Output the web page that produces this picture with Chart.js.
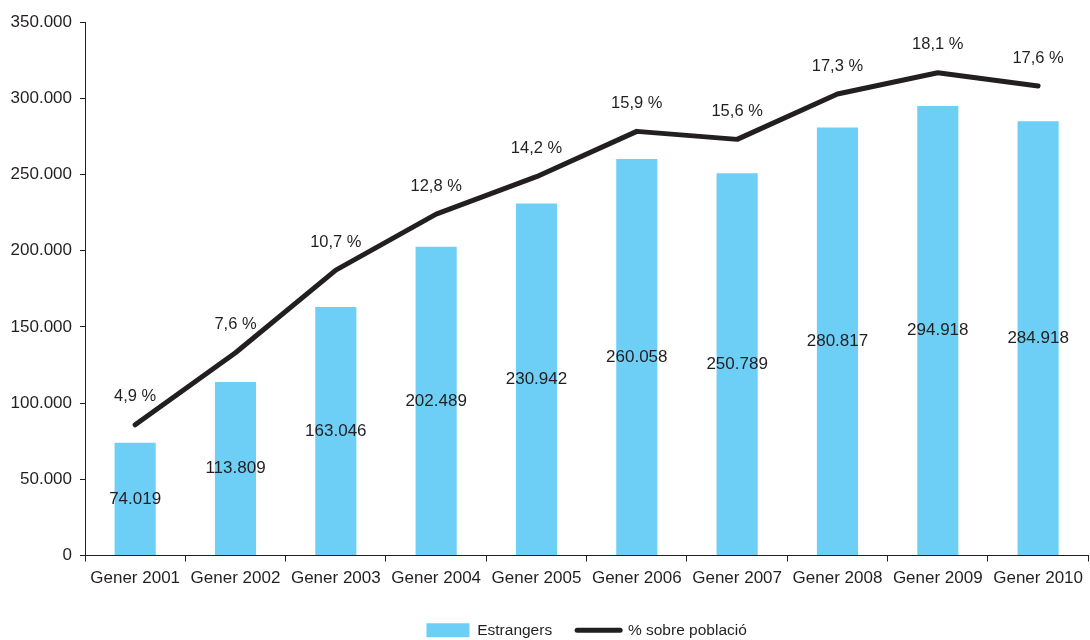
<!DOCTYPE html>
<html lang="ca">
<head>
<meta charset="UTF-8">
<title>Estrangers</title>
<script src="https://cdn.jsdelivr.net/npm/chart.js"></script>
<style>
  html, body { margin: 0; padding: 0; background: #fff; }
  #wrap { width: 1090px; height: 640px; }
</style>
</head>
<body>
<div id="wrap"><canvas id="chart" width="1090" height="640"></canvas></div>
<script>
const categories = ['Gener 2001', 'Gener 2002', 'Gener 2003', 'Gener 2004', 'Gener 2005',
                    'Gener 2006', 'Gener 2007', 'Gener 2008', 'Gener 2009', 'Gener 2010'];
const estrangers = [74019, 113809, 163046, 202489, 230942, 260058, 250789, 280817, 294918, 284918];
const percentPoblacio = [4.9, 7.6, 10.7, 12.8, 14.2, 15.9, 15.6, 17.3, 18.1, 17.6];
const yTicks = [0, 50000, 100000, 150000, 200000, 250000, 300000, 350000];

const ink = '#231f20';
const family = '"Liberation Sans", Arial, sans-serif';
const tickFont = { family: family, size: 17 };

const fmtThousands = v => String(v).replace(/\B(?=(\d{3})+(?!\d))/g, '.');
const fmtPct = v => v.toFixed(1).replace('.', ',') + ' %';

// value labels: bar values centred in bars, percentages above the line
const labelsPlugin = {
  id: 'valueLabels',
  afterLayout(chart) {
    // centre the legend under the plot area rather than the whole canvas
    const lg = chart.legend;
    const shift = (chart.chartArea.left + chart.chartArea.right) / 2 - (lg.left + lg.right) / 2;
    lg.left += shift;
    lg.right += shift;
  },
  afterDatasetsDraw(chart) {
    const ctx = chart.ctx;
    ctx.save();
    ctx.fillStyle = ink;
    ctx.textAlign = 'center';
    ctx.textBaseline = 'middle';
    ctx.font = '17px ' + family;
    chart.getDatasetMeta(0).data.forEach((bar, i) => {
      ctx.fillText(fmtThousands(estrangers[i]), bar.x, (bar.y + bar.base) / 2);
    });
    ctx.font = '16.5px ' + family;
    chart.getDatasetMeta(1).data.forEach((pt, i) => {
      ctx.fillText(fmtPct(percentPoblacio[i]), pt.x, pt.y - 28);
    });
    ctx.restore();
  }
};

new Chart(document.getElementById('chart'), {
  data: {
    labels: categories,
    datasets: [
      {
        type: 'bar',
        label: 'Estrangers',
        data: estrangers,
        backgroundColor: '#6dcff6',
        borderWidth: 0,
        barPercentage: 0.41,
        categoryPercentage: 1,
        yAxisID: 'y',
        order: 2
      },
      {
        type: 'line',
        label: '% sobre població',
        data: percentPoblacio,
        borderColor: ink,
        backgroundColor: ink,
        borderWidth: 5,
        borderCapStyle: 'round',
        borderJoinStyle: 'round',
        pointRadius: 0,
        tension: 0,
        yAxisID: 'y1',
        order: 1
      }
    ]
  },
  options: {
    responsive: false,
    animation: false,
    layout: { padding: { top: 22, right: 0, left: 0, bottom: -8 } },
    plugins: {
      tooltip: { enabled: false },
      legend: {
        position: 'bottom',
        labels: {
          font: { family: family, size: 15.5 },
          color: ink,
          usePointStyle: true,
          pointStyleWidth: 43,
          boxHeight: 14,
          padding: 25,
          generateLabels(chart) {
            return [
              { text: 'Estrangers', fillStyle: '#6dcff6', strokeStyle: '#6dcff6', lineWidth: 0,
                pointStyle: 'rect', datasetIndex: 0, fontColor: ink },
              { text: '% sobre població', fillStyle: ink, strokeStyle: ink, lineWidth: 5,
                lineCap: 'round', pointStyle: 'line', datasetIndex: 1, fontColor: ink }
            ];
          }
        }
      }
    },
    scales: {
      x: {
        offset: true,
        afterFit(scale) { scale.height = 42; },
        grid: { display: true, drawOnChartArea: false, offset: true, tickLength: 6, color: ink },
        border: { color: ink, width: 1 },
        ticks: { font: tickFont, color: ink, padding: 7, maxRotation: 0 }
      },
      y: {
        min: 0,
        max: 350000,
        afterFit(scale) { scale.width = 85; },
        afterBuildTicks(scale) { scale.ticks = yTicks.map(v => ({ value: v })); },
        grid: { display: true, drawOnChartArea: false, tickLength: 5, color: ink },
        border: { color: ink, width: 1 },
        ticks: { font: tickFont, color: ink, padding: 8, callback: v => fmtThousands(v) }
      },
      y1: {
        display: false,
        min: 0,
        max: 20
      }
    }
  },
  plugins: [labelsPlugin]
});
</script>
</body>
</html>
